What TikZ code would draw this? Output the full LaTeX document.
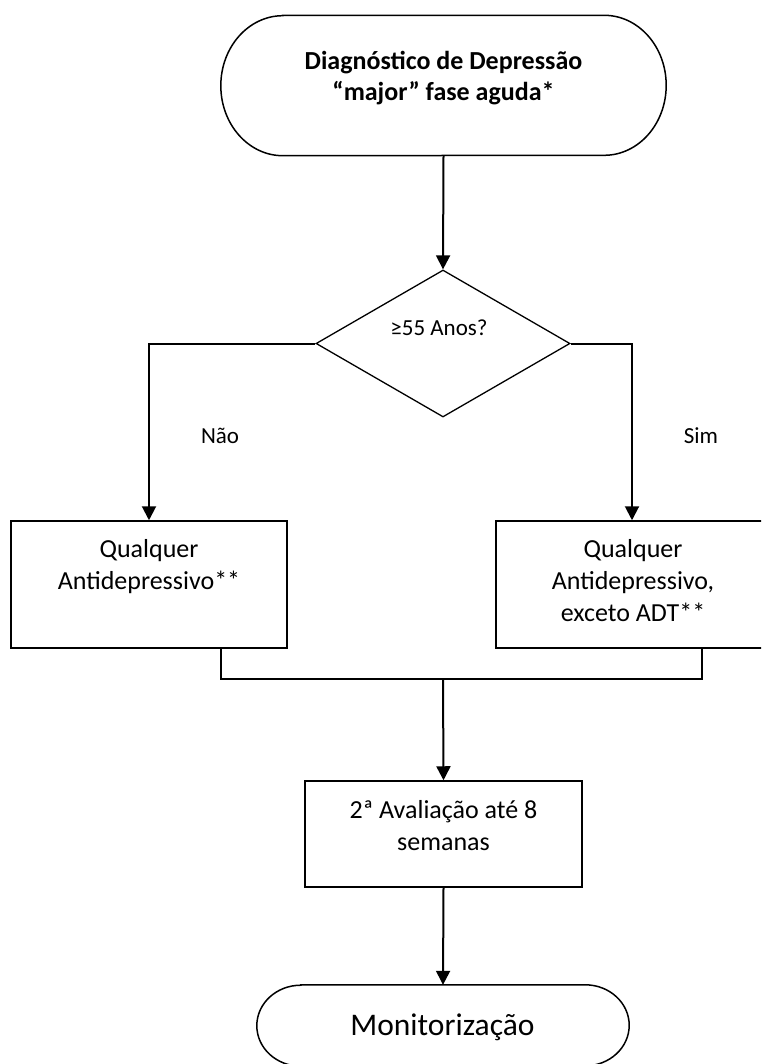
\documentclass[tikz,border=0pt]{standalone}
\usepackage{fontspec}
\setmainfont{Carlito}
\usetikzlibrary{shapes.geometric,arrows.meta}
\begin{document}
\begin{tikzpicture}[x=1pt,y=-1pt,
  outline/.style={draw=black,line width=1.5pt},
  arr/.style={draw=black,line width=2pt,-{Triangle[length=14pt,width=14pt]}},
  joinline/.style={draw=black,line width=1.3pt},
  boxshape/.style={rectangle,draw=black,line width=1.5pt,inner sep=0pt},
  area/.style={rectangle,draw=none,inner sep=0pt},
  decshape/.style={diamond,draw=black,line width=1.3pt,inner sep=0pt},
  txt/.style={inner sep=0pt,anchor=base,font=\fontsize{26pt}{32pt}\selectfont},
  btxt/.style={txt,font=\fontsize{26pt}{32pt}\selectfont\bfseries},
  stxt/.style={inner sep=0pt,anchor=base,font=\fontsize{23pt}{28pt}\selectfont},
  ltxt/.style={inner sep=0pt,anchor=base,font=\fontsize{31.5pt}{38pt}\selectfont}
]
\useasboundingbox (0,0) rectangle (761,1064);
\clip (0,0) rectangle (761,1064);

% top terminal
\node[area,minimum width=445pt,minimum height=140pt] (start) at (443.5,85.5) {};
\draw[outline] ([xshift=62pt]start.north west) -- ([xshift=-62pt]start.north east)
  arc[start angle=90,end angle=-90,x radius=62pt,y radius=70pt]
  -- ([xshift=62pt]start.south west)
  arc[start angle=270,end angle=90,x radius=62pt,y radius=70pt] -- cycle;
\node[btxt] (t1) at (443.5,70) {Diagnóstico de Depressão};
\node[btxt] (t2) at (443.5,101) {“major” fase aguda*};

% decision
\node[decshape,minimum width=254pt,minimum height=147pt] (dec) at (443,343.5) {};
\node[stxt] (dtxt) at (439,335) {≥55 Anos?};

% boxes
\node[boxshape,minimum width=276pt,minimum height=127pt] (b1) at (149,584.5) {};
\node[txt] (b1a) at (149,557) {Qualquer};
\node[txt] (b1b) at (149,589) {Antidepressivo**};

\node[boxshape,minimum width=272pt,minimum height=127pt] (b2) at (632,584.5) {};
\node[txt] (b2a) at (633,557) {Qualquer};
\node[txt] (b2b) at (633,589) {Antidepressivo,};
\node[txt] (b2c) at (633,621) {exceto ADT**};

\node[boxshape,minimum width=277pt,minimum height=106pt] (b3) at (443.5,834) {};
\node[txt] (b3a) at (443.5,818) {2ª Avaliação até 8};
\node[txt] (b3b) at (443.5,850) {semanas};

% bottom terminal
\node[area,minimum width=372pt,minimum height=81pt] (stop) at (443,1025.5) {};
\draw[outline] ([xshift=44pt]stop.north west) -- ([xshift=-44pt]stop.north east)
  arc[start angle=90,end angle=-90,x radius=44pt,y radius=40.5pt]
  -- ([xshift=44pt]stop.south west)
  arc[start angle=270,end angle=90,x radius=44pt,y radius=40.5pt] -- cycle;
\node[ltxt] (stxt) at (442.5,1035) {Monitorização};

% connectors
\draw[arr] (start.south) -- (dec.north);
\draw[arr] (dec.west) -| (b1.north);
\draw[arr] (dec.east) -| (b2.north);
\node[stxt] (nao) at (220,443) {Não};
\node[stxt] (sim) at (701,443) {Sim};

\coordinate (j) at (443,679);
\coordinate (b1o) at ([xshift=72pt]b1.south);
\coordinate (b2o) at ([xshift=70pt]b2.south);
\draw[joinline] (b1o) |- (j) -| (b2o);
\draw[arr] (j) -- (b3.north);
\draw[arr] (b3.south) -- (stop.north);
\end{tikzpicture}
\end{document}
